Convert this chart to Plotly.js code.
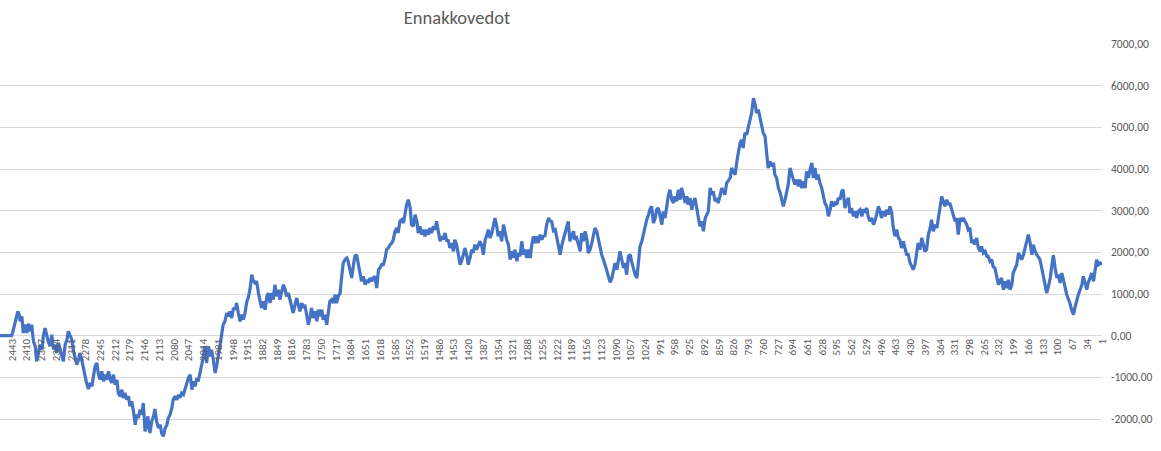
<!DOCTYPE html>
<html>
<head>
<meta charset="utf-8">
<script src="https://cdn.plot.ly/plotly-3.0.1.min.js"></script>
<style>html,body{margin:0;padding:0;background:#fff;}#chart{width:1161px;height:451px;}</style>
</head>
<body>
<div id="chart"></div>
<script>
// Day counters (category labels, counting down to 1)
const days = [
2470,2444,2441,2439,2434,2430,2427,2425,2421,2418,
2414,2410,2406,2403,2399,2395,2391,2388,2384,2380,
2376,2373,2369,2365,2362,2358,2354,2350,2347,2343,
2339,2335,2332,2328,2324,2320,2317,2313,2309,2306,
2302,2298,2294,2291,2287,2283,2279,2276,2272,2268,
2264,2261,2257,2253,2250,2246,2242,2238,2235,2231,
2227,2223,2220,2216,2212,2208,2205,2201,2197,2194,
2190,2186,2182,2179,2175,2171,2167,2164,2160,2156,
2152,2149,2145,2141,2139,2134,2130,2126,2123,2119,
2115,2111,2108,2104,2100,2096,2093,2089,2085,2082,
2078,2074,2070,2067,2063,2059,2055,
2052,2048,2044,2040,2037,2033,2029,2026,2022,2018,
2014,2012,2009,2007,2003,1999,1996,1992,1988,1984,
1981,1977,1973,1970,1966,1962,1958,1955,1951,1947,
1943,1940,1936,1932,1928,1925,1921,1917,1914,1910,
1906,1902,1899,1895,1891,1887,1884,1880,1876,1872,
1869,1865,1861,1858,1854,1850,1846,1843,1839,1835,
1831,1828,1824,1820,1816,1813,1809,1805,1802,1798,
1794,1790,1787,1783,1779,1775,1772,1768,1764,1760,
1757,1753,1749,1746,1742,1738,1734,1731,1727,1723,
1719,1716,1712,1708,1704,1701,1697,1693,1690,1686,
1682,1678,1675,1671,1667,1663,1660,1656,1652,1648,
1645,1641,1637,1634,
1630,1626,1622,1619,1615,1611,1607,1604,1600,1596,
1592,1589,1585,1581,1578,1574,1570,1566,1563,1559,
1555,1551,1548,1544,1540,1536,1533,1529,1525,1522,
1518,1514,1510,1507,1503,1499,1495,1492,1488,1484,
1480,1477,1473,1469,1466,1462,1458,1454,1451,1447,
1443,1439,1436,1432,1428,1424,1421,1417,1413,1410,
1406,1402,1398,1395,1391,1387,1383,1380,1376,1372,
1368,1365,1361,1357,1354,1350,1346,1342,1339,1335,
1331,1327,1323,1320,1316,1312,1309,1305,1301,1297,
1294,1290,1286,1282,1279,1275,1271,1267,1264,1260,
1256,1253,
1249,1245,1241,1238,1234,1230,1226,1223,1219,1215,
1211,1208,1204,1200,1197,1193,1189,1185,1182,1178,
1174,1170,1167,1163,1159,1155,1152,1148,1144,1141,
1137,1133,1129,1126,1122,1118,1114,1111,1107,1103,
1099,1096,1092,1088,1085,1081,1077,1073,1070,1066,
1062,1058,1055,1051,1047,1043,1040,1036,1032,1029,
1025,1021,1017,1014,1010,1006,1002,999,995,991,
987,984,980,976,973,969,965,961,958,954,
950,946,943,939,935,931,928,924,920,917,
913,909,905,902,898,894,890,887,883,879,
875,872,868,864,861,857,853,849,
846,842,838,834,831,827,823,819,816,812,
808,805,801,797,793,790,786,782,778,775,
771,767,763,760,756,752,749,745,741,737,
734,730,726,722,719,715,711,707,704,700,
696,693,689,685,681,678,674,670,666,663,
659,655,651,648,644,640,637,633,629,625,
622,618,614,610,607,603,599,595,592,588,
584,581,577,573,569,566,562,558,554,551,
547,543,539,536,532,528,525,521,517,513,
510,506,502,498,495,491,487,483,480,476,
472,469,465,461,457,454,450,446,
442,439,435,431,427,424,420,416,413,409,
405,401,398,394,390,386,383,379,375,371,
368,364,360,357,353,349,345,342,338,334,
330,327,323,319,315,312,308,304,301,297,
293,289,286,282,278,274,271,267,263,259,
256,252,248,245,241,237,233,230,226,222,
218,214,211,207,203,200,196,192,188,185,
181,177,173,170,166,162,158,155,151,147,
144,140,136,132,129,125,121,117,114,110,
106,102,99,95,91,88,84,80,76,73,
69,65,61,58,54,50,46,43,39,35,
32,28,24,20,17,13,9,5,1
];

// Ennakkovedot values
const values = [
0,0,100,190,384,584,504,344,464,64,
264,64,288,104,264,-136,-256,-616,-416,-216,
-336,-16,184,-56,-136,-256,24,-336,-216,-416,
-176,-336,-496,-616,-216,-96,104,-16,-96,-336,
-536,-696,-576,-416,-576,-816,-976,-1136,-1280,-1136,
-1216,-976,-736,-656,-896,-1056,-856,-1096,-936,-1056,
-856,-1056,-1136,-936,-1176,-1056,-1376,-1456,-1296,-1496,
-1376,-1536,-1456,-1696,-1576,-1816,-2136,-1896,-1976,-1776,
-1896,-1616,-2296,-2176,-1936,-2336,-2056,-1936,-1760,-2056,
-2216,-2136,-2336,-2416,-2216,-2136,-1976,-1896,-1736,-1536,
-1456,-1536,-1416,-1496,-1376,-1416,-1256,
-1136,-1016,-936,-1296,-1096,-1216,-1016,-1096,-896,-656,
-496,-256,-416,-656,-256,-496,-336,-576,-896,-696,
-496,-176,144,264,344,544,464,584,424,664,
624,784,544,344,504,384,544,824,904,1104,
1464,1304,1264,1304,1024,784,664,824,624,944,
1024,784,1024,864,1224,944,1104,864,1064,1224,
1104,944,1024,824,664,544,744,904,744,584,
784,664,744,544,264,464,664,424,584,344,
624,464,624,384,504,264,624,824,864,784,
984,784,944,1024,1464,1744,1824,1864,1784,1584,
1384,1704,1904,1944,1704,1424,1304,1424,1224,1344,
1264,1384,1304,1384,
1424,1144,1584,1624,1704,1704,1864,2064,2104,2184,
2224,2304,2504,2584,2464,2744,2784,2704,2904,3144,
3264,3064,2664,2624,2904,2744,2464,2624,2424,2544,
2384,2544,2424,2584,2464,2624,2544,2744,2504,2264,
2384,2304,2464,2264,2304,2104,2224,2024,2304,2184,
1944,1704,1784,1944,2104,1904,1704,1864,2064,1984,
2184,2064,2184,2264,2184,1944,2304,2384,2544,2344,
2464,2624,2824,2624,2384,2504,2264,2664,2464,2304,
2184,1824,2024,1864,2064,1784,1984,1904,2264,1944,
2064,1864,2064,1864,2144,2384,2224,2384,2224,2424,
2304,2384,
2400,2680,2824,2760,2740,2520,2544,2384,2224,1944,
2184,2304,2504,2624,2744,2264,2384,2504,2304,2344,
2184,2024,2464,2264,2504,2304,1984,2064,2224,2424,
2584,2504,2304,2104,1944,1824,1704,1584,1424,1280,
1384,1584,1744,1584,1784,2024,1824,1624,1744,1464,
1904,1944,1784,1624,1464,1384,1784,2144,2264,2424,
2624,2784,2904,3024,3104,2704,2824,3024,3064,2824,
2664,2984,2824,3104,3344,3504,3264,3184,3344,3224,
3504,3264,3544,3384,3184,3344,3144,3304,3024,3184,
3304,3064,2744,2624,2744,2504,2824,2904,2984,3544,
3384,3464,3224,3304,3184,3344,3544,3464,
3384,3664,3744,3784,4024,3944,3864,4184,4424,4624,
4704,4504,4864,4824,5024,5144,5344,5700,5544,5344,
5424,5224,5024,4864,4784,4304,4024,4184,4064,4144,
3864,3784,3544,3424,3264,3104,3264,3504,3624,4024,
3864,3784,3624,3744,3584,3744,3544,3704,3544,3944,
3784,3984,4144,3784,4024,3744,3864,3664,3544,3344,
3184,3104,2864,3024,3224,3104,3184,3144,3304,3264,
3464,3504,3064,3224,3304,2944,3064,2864,2984,2824,
2984,3024,2864,3024,2984,3064,2864,2744,2824,2664,
2744,2904,3104,2984,2824,2984,2864,3024,2904,3104,
2944,2624,2384,2544,2344,2304,2104,2264,
2100,1950,1944,1744,1664,1584,1704,1984,2224,2064,
2344,2184,2024,2064,2424,2584,2784,2504,2664,2584,
2824,3144,3344,3224,3104,3264,3144,3184,3024,2904,
2744,2824,2424,2824,2744,2824,2744,2664,2544,2584,
2224,2304,2184,2344,2104,2024,2144,1984,2024,1904,
1904,1784,1824,1664,1624,1424,1224,1304,1384,1104,
1304,1144,1344,1104,1224,1504,1624,1704,1984,1904,
1824,1944,2104,2264,2424,2224,1944,2184,2024,1944,
1904,1824,1624,1384,1184,1024,1184,1384,1624,1928,
1624,1384,1464,1264,1504,1344,1144,984,864,784,
624,504,704,864,984,1104,1224,1424,1224,1104,
1264,1384,1504,1304,1504,1824,1704,1744,1704
];

// Category tick labels shown on the axis
const xTickVals = [2443,2410,2377,2344,2311,2278,2245,2212,2179,2146,2113,2080,2047,2014,1981,1948,1915,1882,1849,1816,1783,1750,1717,1684,1651,1618,1585,1552,1519,1486,1453,1420,1387,1354,1321,1288,1255,1222,1189,1156,1123,1090,1057,1024,991,958,925,892,859,826,793,760,727,694,661,628,595,562,529,496,463,430,397,364,331,298,265,232,199,166,133,100,67,34,1];
const yTickVals = [-2000,-1000,0,1000,2000,3000,4000,5000,6000,7000];
const yTickText = ["-2000,00","-1000,00","0,00","1000,00","2000,00","3000,00","4000,00","5000,00","6000,00","7000,00"];

const FONT = 'Calibri, Carlito, Lato, sans-serif';
const Y_MIN = -2768, Y_MAX = 7000;

const trace = {
  type: 'scatter', mode: 'lines',
  x: days, y: values,
  line: {color: '#4472C4', width: 3.2},
  hoverinfo: 'skip'
};

const layout = {
  width: 1161, height: 451,
  margin: {l: 0, r: 59, t: 44, b: 0, pad: 0},
  paper_bgcolor: '#ffffff', plot_bgcolor: '#ffffff',
  showlegend: false,
  title: {
    text: 'Ennakkovedot',
    font: {family: FONT, size: 18.5, color: '#595959'},
    xref: 'container', x: 0.3936, xanchor: 'center',
    yref: 'container', y: 0.962, yanchor: 'middle'
  },
  xaxis: {
    type: 'linear', range: [2470, 1], autorange: false,
    anchor: 'free', position: (0 - Y_MIN) / (Y_MAX - Y_MIN),
    tickmode: 'array', tickvals: xTickVals, ticktext: xTickVals.map(String),
    tickangle: -90, ticks: '', showgrid: false, zeroline: false, showline: false,
    tickfont: {family: FONT, size: 11, color: '#595959'}
  },
  yaxis: {
    range: [Y_MIN, Y_MAX], autorange: false, side: 'right',
    tickmode: 'array', tickvals: yTickVals, ticktext: yTickText,
    ticks: '', showgrid: true, gridcolor: '#d9d9d9', gridwidth: 1,
    zeroline: false, showline: false, ticklabelstandoff: 8,
    tickfont: {family: FONT, size: 11.5, color: '#595959'}
  }
};

Plotly.newPlot('chart', [trace], layout, {displayModeBar: false, staticPlot: true});
</script>
</body>
</html>
